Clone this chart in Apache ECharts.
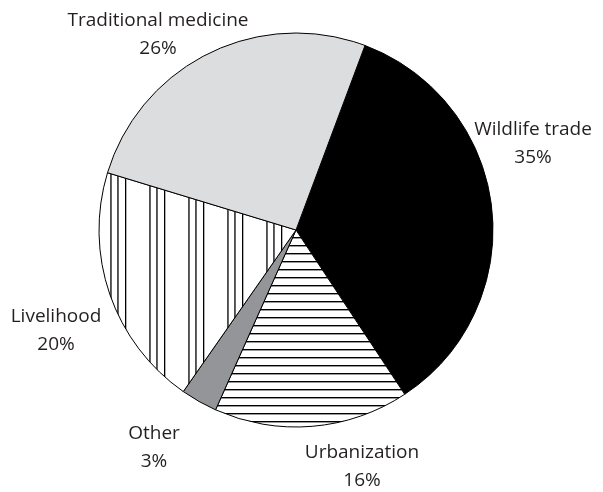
<!DOCTYPE html>
<html>
<head>
<meta charset="utf-8">
<script src="https://cdn.jsdelivr.net/npm/echarts@6/dist/echarts.min.js"></script>
<style>
html,body{margin:0;padding:0;background:#fff;}
#main{width:603px;height:492px;}
</style>
</head>
<body>
<div id="main"></div>
<script>
// Data
var categories = ['Wildlife trade', 'Urbanization', 'Other', 'Livelihood', 'Traditional medicine'];
var values = [35, 16, 3, 20, 26];

// Label placement (centre of the two-line label block)
var labelPos = [[533, 144], [362, 467], [154, 448], [56, 331], [158, 35]];

function makePattern(kind) {
  var c = document.createElement('canvas');
  var ctx = c.getContext('2d');
  if (kind === 'h') {
    c.width = 8; c.height = 8;
    ctx.fillStyle = '#fff'; ctx.fillRect(0, 0, 8, 8);
    ctx.fillStyle = '#000'; ctx.fillRect(0, 5, 8, 1.4);
  } else {
    c.width = 39; c.height = 8;
    ctx.fillStyle = '#fff'; ctx.fillRect(0, 0, 39, 8);
    ctx.fillStyle = '#000';
    [0.3, 8.0, 32.3].forEach(function (x) { ctx.fillRect(x, 0, 1.3, 8); });
  }
  return { image: c, repeat: 'repeat' };
}

var fills = ['#000000', makePattern('h'), '#939598', makePattern('v'), '#dcdddf'];

var chart = echarts.init(document.getElementById('main'), null, { renderer: 'canvas' });
chart.setOption({
  animation: false,
  series: [{
    type: 'pie',
    center: [296, 230],
    radius: [0, 197],
    startAngle: 69.5,
    clockwise: true,
    avoidLabelOverlap: false,
    data: categories.map(function (name, i) {
      return { name: name, value: values[i], itemStyle: { color: fills[i] } };
    }),
    itemStyle: { borderColor: '#000', borderWidth: 1 },
    label: {
      show: true,
      formatter: '{b}\n{c}%',
      fontFamily: 'Open Sans',
      fontSize: 19,
      lineHeight: 28,
      color: '#231f20'
    },
    labelLine: { show: false },
    labelLayout: function (p) {
      var pos = labelPos[p.dataIndex];
      return { x: pos[0], y: pos[1], align: 'center', verticalAlign: 'middle' };
    },
    emphasis: { disabled: true }
  }]
});
</script>
</body>
</html>
